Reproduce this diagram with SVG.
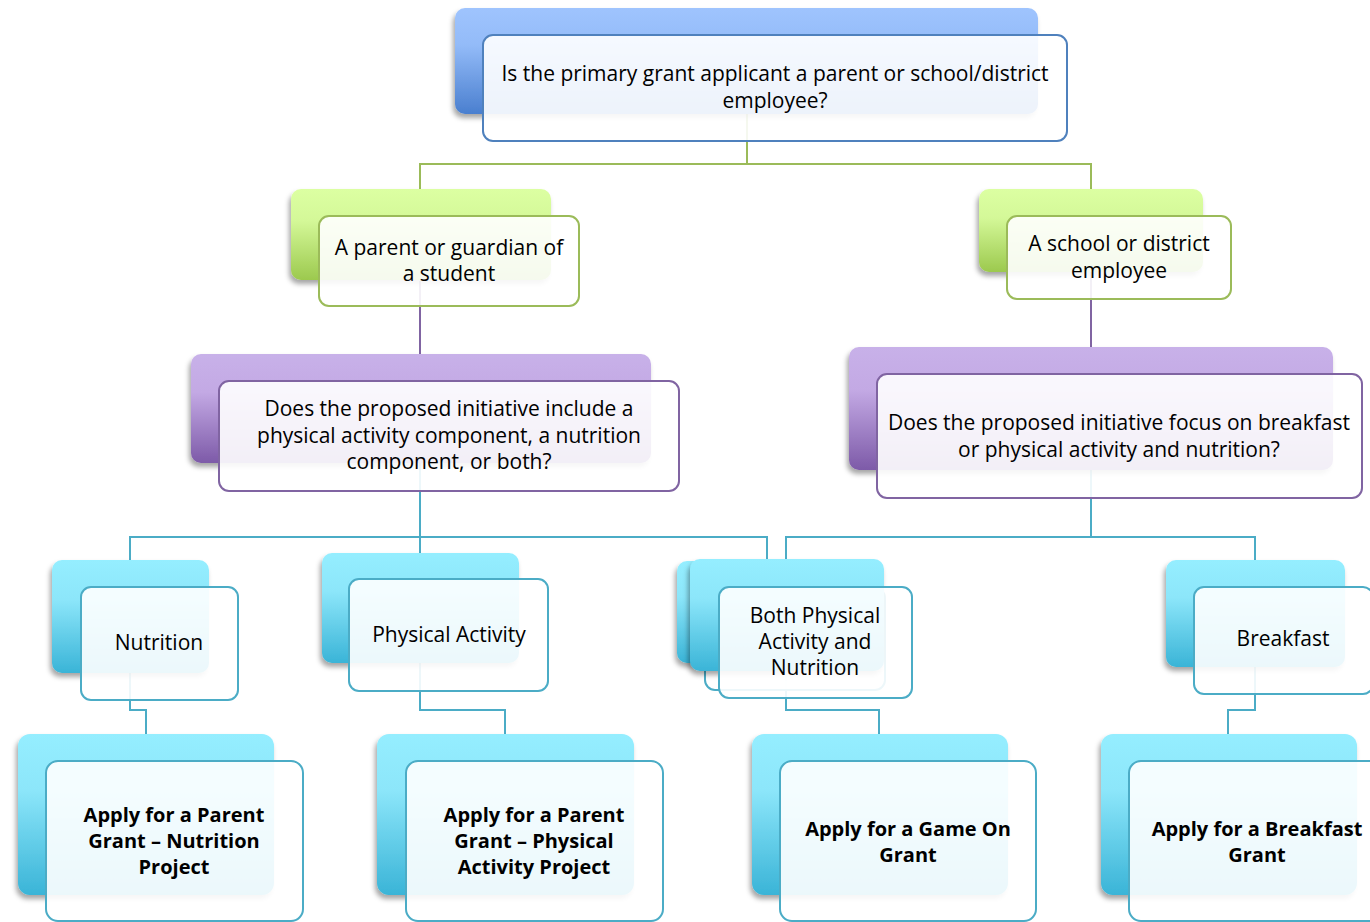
<svg xmlns="http://www.w3.org/2000/svg" width="1370" height="922" viewBox="0 0 1370 922">
<defs>
<linearGradient id="gBlue" x1="0" y1="0" x2="0" y2="1"><stop offset="0" stop-color="#9fc4fe"/><stop offset="0.35" stop-color="#93bbf8"/><stop offset="1" stop-color="#4a7fcf"/></linearGradient>
<linearGradient id="gGreen" x1="0" y1="0" x2="0" y2="1"><stop offset="0" stop-color="#dcffa2"/><stop offset="0.35" stop-color="#d4f898"/><stop offset="1" stop-color="#9cc94e"/></linearGradient>
<linearGradient id="gPurple" x1="0" y1="0" x2="0" y2="1"><stop offset="0" stop-color="#c8b1e9"/><stop offset="0.35" stop-color="#c3a9e4"/><stop offset="1" stop-color="#7d5aa8"/></linearGradient>
<linearGradient id="gCyan" x1="0" y1="0" x2="0" y2="1"><stop offset="0" stop-color="#95eeff"/><stop offset="0.35" stop-color="#8ce6fa"/><stop offset="1" stop-color="#3ab4d7"/></linearGradient>
<filter id="sh" x="-10%" y="-10%" width="120%" height="130%"><feDropShadow dx="-2" dy="4" stdDeviation="2.5" flood-color="#000" flood-opacity="0.35"/></filter>
</defs>
<style>
.back{filter:url(#sh)}
.front{fill:#ffffff;fill-opacity:0.9;stroke-width:2}
.fb{stroke:#4f81bd}.fg{stroke:#9bbb59}.fp{stroke:#8064a2}.fc{stroke:#4bacc6}
.c{fill:none;stroke-width:2}
.cg{stroke:#9bbb59}.cp{stroke:#8064a2}.cc{stroke:#4bacc6}
text{font-family:"Open Sans","Liberation Sans",sans-serif;font-size:21px;fill:#000;text-anchor:middle}
.b{font-weight:bold;font-size:20px}
</style>
<g id="connectors">
<path class="c cg" d="M747,114 V164 H420 V190 M747,164 H1091 V190"/>
<path class="c cp" d="M420,281 V355 M1091,272 V348"/>
<path class="c cc" d="M420,463 V537 H130 V560 M420,537 V553 M420,537 H767 V561"/>
<path class="c cc" d="M1091,470 V537 H786 V560 M1091,537 H1255 V561"/>
<path class="c cc" d="M130,673 V710 H146 V735 M420,663 V710 H505 V734 M786,671 V710 H879 V735 M1255,667 V710 H1228 V735"/>
</g>
<g id="n-top">
<rect class="back" x="455" y="8" width="583" height="106" rx="10" fill="url(#gBlue)"/>
<rect class="front fb" x="483" y="35" width="584" height="106" rx="10"/>
<text x="775" y="81">Is the primary grant applicant a parent or school/district</text>
<text x="775" y="108">employee?</text>
</g>
<g id="n-parent">
<rect class="back" x="291" y="189" width="260" height="91" rx="10" fill="url(#gGreen)"/>
<rect class="front fg" x="319" y="216" width="260" height="90" rx="10"/>
<text x="449" y="255">A parent or guardian of</text>
<text x="449" y="281">a student</text>
</g>
<g id="n-school">
<rect class="back" x="979" y="189" width="224" height="83" rx="10" fill="url(#gGreen)"/>
<rect class="front fg" x="1007" y="216" width="224" height="83" rx="10"/>
<text x="1119" y="251">A school or district</text>
<text x="1119" y="278">employee</text>
</g>
<g id="n-q-parent">
<rect class="back" x="191" y="354" width="460" height="109" rx="10" fill="url(#gPurple)"/>
<rect class="front fp" x="219" y="381" width="460" height="110" rx="10"/>
<text x="449" y="416">Does the proposed initiative include a</text>
<text x="449" y="443">physical activity component, a nutrition</text>
<text x="449" y="469">component, or both?</text>
</g>
<g id="n-q-school">
<rect class="back" x="849" y="347" width="484" height="123" rx="10" fill="url(#gPurple)"/>
<rect class="front fp" x="877" y="374" width="485" height="124" rx="10"/>
<text x="1119" y="430">Does the proposed initiative focus on breakfast</text>
<text x="1119" y="457">or physical activity and nutrition?</text>
</g>
<g id="n-nutrition">
<rect class="back" x="52" y="560" width="157" height="113" rx="10" fill="url(#gCyan)"/>
<rect class="front fc" x="81" y="587" width="157" height="113" rx="10"/>
<text x="159" y="650">Nutrition</text>
</g>
<g id="n-physical">
<rect class="back" x="322" y="553" width="197" height="110" rx="10" fill="url(#gCyan)"/>
<rect class="front fc" x="349" y="579" width="199" height="112" rx="10"/>
<text x="449" y="642">Physical Activity</text>
</g>
<g id="n-both-hidden">
<rect class="back" x="677" y="561" width="180" height="102" rx="10" fill="url(#gCyan)"/>
<rect class="front fc" x="705" y="588" width="180" height="102" rx="10"/>
</g>
<g id="n-both">
<rect class="back" x="690" y="559" width="194" height="112" rx="10" fill="url(#gCyan)"/>
<rect class="front fc" x="719" y="587" width="193" height="111" rx="10"/>
<text x="815" y="623">Both Physical</text>
<text x="815" y="649">Activity and</text>
<text x="815" y="675">Nutrition</text>
</g>
<g id="n-breakfast">
<rect class="back" x="1166" y="560" width="179" height="107" rx="10" fill="url(#gCyan)"/>
<rect class="front fc" x="1194" y="587" width="179" height="107" rx="10"/>
<text x="1283" y="646">Breakfast</text>
</g>
<g id="n-apply-nutrition">
<rect class="back" x="18" y="734" width="256" height="161" rx="12" fill="url(#gCyan)"/>
<rect class="front fc" x="46" y="761" width="257" height="160" rx="12"/>
<text class="b" x="174" y="822">Apply for a Parent</text>
<text class="b" x="174" y="848">Grant – Nutrition</text>
<text class="b" x="174" y="874">Project</text>
</g>
<g id="n-apply-physical">
<rect class="back" x="377" y="734" width="257" height="161" rx="12" fill="url(#gCyan)"/>
<rect class="front fc" x="406" y="761" width="257" height="160" rx="12"/>
<text class="b" x="534" y="822">Apply for a Parent</text>
<text class="b" x="534" y="848">Grant – Physical</text>
<text class="b" x="534" y="874">Activity Project</text>
</g>
<g id="n-apply-gameon">
<rect class="back" x="752" y="734" width="256" height="161" rx="12" fill="url(#gCyan)"/>
<rect class="front fc" x="780" y="761" width="256" height="160" rx="12"/>
<text class="b" x="908" y="836">Apply for a Game On</text>
<text class="b" x="908" y="862">Grant</text>
</g>
<g id="n-apply-breakfast">
<rect class="back" x="1101" y="734" width="256" height="161" rx="12" fill="url(#gCyan)"/>
<rect class="front fc" x="1129" y="761" width="256" height="160" rx="12"/>
<text class="b" x="1257" y="836">Apply for a Breakfast</text>
<text class="b" x="1257" y="862">Grant</text>
</g>
</svg>
